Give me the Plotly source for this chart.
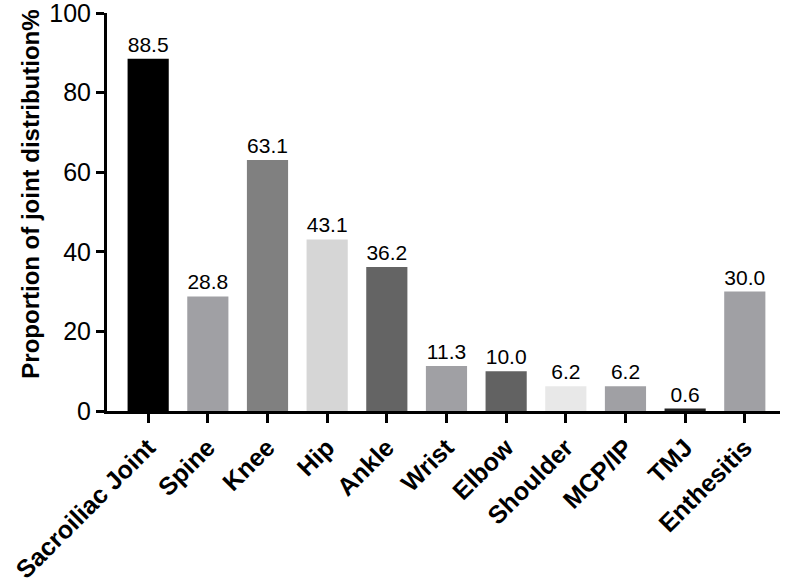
import plotly.graph_objects as go

categories = ["Sacroiliac Joint", "Spine", "Knee", "Hip", "Ankle", "Wrist",
              "Elbow", "Shoulder", "MCP/IP", "TMJ", "Enthesitis"]
values = [88.5, 28.8, 63.1, 43.1, 36.2, 11.3, 10.0, 6.2, 6.2, 0.6, 30.0]
labels = ["88.5", "28.8", "63.1", "43.1", "36.2", "11.3", "10.0", "6.2", "6.2", "0.6", "30.0"]
colors = ["#000000", "#a0a0a4", "#808080", "#d6d6d6", "#646464", "#a0a0a4",
          "#626262", "#e8e8e8", "#a0a0a4", "#222222", "#a0a0a4"]
y_ticks = [0, 20, 40, 60, 80, 100]

FONT = "Arial, Liberation Sans, sans-serif"

fig = go.Figure(go.Bar(
    x=categories, y=values, width=0.69,
    marker=dict(color=colors, line=dict(width=0)),
    text=labels, textposition="outside", cliponaxis=False,
    textfont=dict(family=FONT, size=21, color="black"),
))

fig.update_layout(
    width=786, height=587,
    margin=dict(l=107, r=6, t=13, b=176, autoexpand=False),
    paper_bgcolor="white", plot_bgcolor="white",
    showlegend=False,
    font=dict(family=FONT, color="black"),
    bargap=0.31,
)
fig.update_xaxes(
    range=[-0.69, 10.59], showline=True, linecolor="black", linewidth=3,
    ticks="outside", ticklen=9, tickwidth=3, tickcolor="black",
    tickangle=-45, showgrid=False, zeroline=False, automargin=False,
    tickfont=dict(family=FONT, size=25, color="black", weight="bold"),
)
fig.update_yaxes(
    range=[0, 100.01], tickvals=y_ticks, showline=True, linecolor="black", linewidth=3,
    ticks="outside", ticklen=8, tickwidth=3, tickcolor="black",
    showgrid=False, zeroline=False, automargin=False, ticklabeloverflow="allow",
    tickfont=dict(family=FONT, size=25, color="black"),
)
fig.add_annotation(
    text="<b>Proportion of joint distribution%</b>", textangle=-90,
    xref="paper", yref="paper", x=-0.115, y=0.545, xanchor="center", yanchor="middle",
    showarrow=False, font=dict(family=FONT, size=24, color="black"),
)

fig.write_html("out.html", post_script="document.body.style.margin='0';",
               config={"displayModeBar": False})
